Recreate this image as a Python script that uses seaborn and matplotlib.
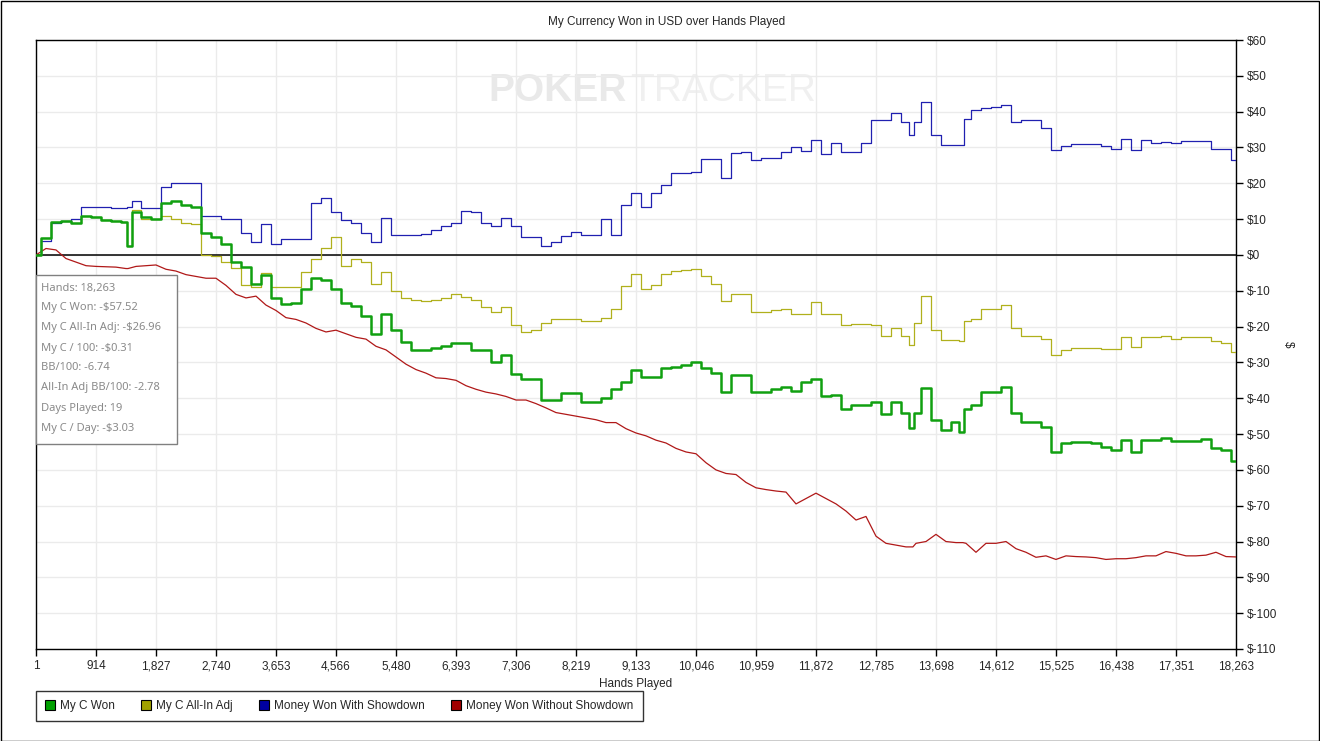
import numpy as np
import pandas as pd
import matplotlib
matplotlib.use("Agg")
import matplotlib.pyplot as plt
from matplotlib.lines import Line2D
from matplotlib.patches import Rectangle
import seaborn as sns

# hands sampled roughly every 152 hands (plus a few spike points)
hands = [1, 153, 305, 457, 610, 762, 914, 1066, 1218, 1371, 1401, 1523, 1675, 1827, 1979,
         2131, 2284, 2436, 2588, 2740, 2892, 3044, 3197, 3349, 3501, 3653, 3805, 3958,
         4110, 4262, 4414, 4566, 4718, 4871, 5023, 5175, 5327, 5480, 5632, 5784, 5936,
         6088, 6240, 6393, 6545, 6697, 6849, 7001, 7153, 7306, 7458, 7610, 7762, 7914,
         8067, 8219, 8371, 8523, 8675, 8827, 8980, 9132, 9284, 9436, 9589, 9741, 9893,
         10045, 10197, 10349, 10502, 10654, 10806, 10958, 11110, 11262, 11415, 11567,
         11719, 11871, 12023, 12176, 12328, 12480, 12632, 12784, 12936, 13089, 13241,
         13346, 13393, 13545, 13697, 13849, 14002, 14107, 14154, 14306, 14458, 14610,
         14763, 14915, 15067, 15219, 15371, 15523, 15676, 15828, 15980, 16132, 16284,
         16437, 16589, 16741, 16893, 17045, 17197, 17350, 17502, 17654, 17806, 17958,
         18111, 18263]

my_c_won = [0, 4.8, 9.3, 9.5, 9, 11, 10.5, 9.8, 9.5, 9.3, 2.6, 12, 10.5, 10, 14.5,
            15, 14, 13.5, 6, 5, 3, -2, -3.5, -8, -5.5, -12, -13.7, -13.5,
            -9.5, -6.5, -7, -9.5, -13.5, -14.3, -17, -22, -16.5, -21, -24.2, -26.5, -26.5,
            -26, -25.5, -24.5, -24.5, -26.5, -26.5, -29.8, -28, -33.3, -34.7, -34.6, -40.5, -40.5,
            -38.6, -38.6, -41, -41, -40, -37.5, -35.5, -32.1, -34, -34, -31.6, -31.3, -30.7,
            -30, -31.5, -33, -38.3, -33.5, -33.5, -38.3, -38.3, -37.5, -36.8, -38,
            -35.5, -34.5, -39.5, -39, -43, -42, -42, -41, -44.5, -41, -44,
            -48.4, -44, -37.2, -46, -48.8, -46.5, -49.5, -43, -42, -38.3, -38.3,
            -37, -44, -46.5, -46.5, -48, -55, -52.5, -52.3, -52.3, -52.5, -53.5,
            -54.5, -51.7, -55, -51.7, -51.7, -51, -52, -52, -51.8, -51.5,
            -54, -54.5, -57.5]

all_in_adj = [0, 4.8, 9.3, 9.5, 9, 11, 10.5, 9.8, 9.5, 9.3, 2.6, 12.5, 10, 10, 11,
              10, 9, 8.5, 0, -0.3, -2, -3.7, -8.5, -9, -5, -9, -9, -9,
              -4.7, -1, 2, 5, -3, -1.2, -2, -8, -4.8, -10, -12, -12.6, -12.8,
              -12.6, -12, -11, -11.7, -12.5, -14.5, -16, -14.5, -19.5, -21.5, -21, -19, -17.8,
              -17.8, -18, -18.5, -18.5, -17.5, -15, -8.7, -5.2, -9.5, -8.5, -5.3, -4.5, -4.3,
              -4, -6, -8, -12.8, -11, -11, -15.8, -15.8, -15.5, -15, -16.5,
              -16.5, -13, -16.5, -16.5, -19.5, -19.3, -19.3, -19.5, -22.5, -20.5, -22.7,
              -25, -19, -11.5, -21, -23.7, -23.7, -24, -18.5, -18, -15, -15,
              -14, -20.3, -22.7, -22.7, -23.5, -28, -26.5, -26, -26, -26, -26.3,
              -26.3, -23, -25.6, -23, -23, -22.5, -23.4, -23, -22.9, -22.9,
              -24, -24.5, -27]

with_showdown = [0, 4, 9, 9.5, 10, 13.5, 13.5, 13.3, 13, 13, 13.5, 15, 13, 13, 19,
                 20, 20, 20, 11, 11, 10, 10, 6, 3.7, 8.5, 3, 4.5, 4.4,
                 4.4, 14.5, 16, 12, 9.7, 9, 6, 3.5, 10.2, 5.5, 5.5, 5.5, 5.8,
                 7, 8, 9, 12.4, 12, 9, 8, 10.2, 8, 5, 5, 2.5, 3.5,
                 5.2, 6.3, 5.5, 5.5, 10, 5.5, 14, 17.4, 13.5, 17.4, 19.5, 22.8, 23,
                 23.2, 26.8, 26.8, 21.5, 28.4, 28.6, 26.5, 27.2, 27.2, 28.8, 30,
                 29, 32, 28.3, 31.2, 28.8, 28.8, 31.2, 37.7, 37.7, 39.5, 37.2,
                 33.5, 37, 42.8, 33.5, 30.7, 30.7, 30.7, 38, 40.5, 41, 41.4,
                 41.8, 37.2, 37.7, 37.7, 35.5, 29.3, 30.5, 31, 31, 31, 30.5,
                 29.5, 32.3, 29.3, 32, 31.2, 31.5, 31.2, 31.8, 31.8, 31.8,
                 29.6, 29.6, 26.5]

without_showdown = [0, 1.8, 1.4, -1, -2, -3, -3.2, -3.3, -3.4, -3.8, -3.8, -3.2, -3, -2.8, -4,
                    -4.5, -5.5, -6, -6.5, -6.5, -8.5, -11, -12, -11.5, -14, -15.5, -17.5, -18,
                    -19, -20.5, -21.5, -21, -22, -23, -23.5, -25.5, -26.5, -28.5, -30.5, -32, -33,
                    -34.3, -34.5, -35, -36.5, -37.5, -38.3, -38.8, -39.5, -40.5, -40.5, -41.5, -42.7, -44,
                    -44.5, -45, -45.5, -46, -46.8, -46.8, -48.5, -49.7, -50.5, -51.7, -52.5, -54, -55,
                    -55.5, -58, -60, -61, -61.3, -63.5, -65, -65.5, -65.9, -66.2, -69.5,
                    -68, -66.5, -68, -69.5, -71.5, -74, -73, -78.5, -80.5, -81, -81.5,
                    -81.5, -80.5, -80, -78, -80, -80.3, -80.3, -80.5, -83, -80.5, -80.5,
                    -80, -82, -83, -84.4, -84, -85, -84, -84.2, -84.3, -84.5, -85,
                    -84.8, -84.8, -84.5, -84, -84, -82.8, -83.3, -84, -84, -83.8,
                    -83, -84.2, -84.3]

series_names = ["My C Won", "My C All-In Adj", "Money Won With Showdown", "Money Won Without Showdown"]
line_colors = ["#10a010", "#b0b01c", "#2020b0", "#b01818"]
legend_colors = ["#00a000", "#a0a000", "#0000a0", "#a00000"]
draw_styles = ["steps-mid", "steps-mid", "steps-mid", "default"]

x_ticks = [1, 914, 1827, 2740, 3653, 4566, 5480, 6393, 7306, 8219, 9133, 10046,
           10959, 11872, 12785, 13698, 14612, 15525, 16438, 17351, 18263]
y_ticks = list(range(-110, 61, 10))

info_lines = ["Hands: 18,263", "My C Won: -$57.52", "My C All-In Adj: -$26.96",
              "My C / 100: -$0.31", "BB/100: -6.74", "All-In Adj BB/100: -2.78",
              "Days Played: 19", "My C / Day: -$3.03"]

df = pd.DataFrame({"hands": hands,
                   series_names[0]: my_c_won,
                   series_names[1]: all_in_adj,
                   series_names[2]: with_showdown,
                   series_names[3]: without_showdown})
long_df = df.melt(id_vars="hands", var_name="series", value_name="usd")

sns.set_style("white")
plt.rcParams["font.family"] = ["Liberation Sans", "DejaVu Sans"]

W, H = 1320, 741
fig = plt.figure(figsize=(W / 100, H / 100), dpi=100)
ax = fig.add_axes([36 / W, 1 - 649 / H, 1200 / W, 609 / H])

ax.axhline(0, color="black", lw=1.1, zorder=1.5)

# draw order: red, blue, olive, green on top
for i in [3, 2, 1, 0]:
    name = series_names[i]
    sns.lineplot(data=long_df[long_df["series"] == name], x="hands", y="usd",
                 color=line_colors[i], lw=1.8 if i == 0 else 0.9,
                 drawstyle=draw_styles[i], ax=ax, legend=False, zorder=3 + (3 - i))

ax.set_xlim(1, 18263)
ax.set_ylim(-110, 60)
ax.set_xticks(x_ticks)
ax.set_xticklabels([f"{v:,}" for v in x_ticks], fontsize=8.5)
ax.set_yticks(y_ticks)
ax.set_yticklabels([f"${v}" for v in y_ticks], fontsize=8.5)
ax.yaxis.tick_right()
ax.tick_params(axis="both", direction="out", length=5, width=1, color="black",
               pad=3, bottom=True, right=True, left=False)
ax.grid(True, color="#ebebeb", lw=1)
for s in ax.spines.values():
    s.set_color("black")
    s.set_linewidth(1)
ax.set_xlabel("Hands Played", fontsize=8.5, labelpad=4)
ax.set_ylabel("$", fontsize=8.5, rotation=270, va="center")
ax.yaxis.set_label_coords((1288 - 36) / 1200, 0.5)

# watermark
ax.text((488 - 36) / 1200, 0.916, "POKER", transform=ax.transAxes, fontsize=28,
        fontweight="bold", color="#e9e9e9", ha="left", va="center", zorder=0.5)
ax.text((630 - 36) / 1200, 0.916, "TRACKER", transform=ax.transAxes, fontsize=28,
        color="#f0f0f0", ha="left", va="center", zorder=0.5)

fig.text(667 / W, 1 - 22 / H, "My Currency Won in USD over Hands Played",
         ha="center", va="center", fontsize=8.5)

# info box
fig.add_artist(Rectangle((36 / W, 1 - 444 / H), 141 / W, 169 / H, transform=fig.transFigure,
                         facecolor="white", edgecolor="#808080", lw=1, zorder=10))
for j, line in enumerate(info_lines):
    fig.text(41 / W, 1 - (288 + 20 * j) / H, line, ha="left", va="center",
             fontsize=8, color="#8a8a8a", family="Noto Sans", zorder=11)

# legend
handles = [Line2D([], [], ls="none", marker="s", markersize=7, markerfacecolor=c,
                  markeredgecolor="black", markeredgewidth=0.8) for c in legend_colors]
leg = fig.legend(handles, series_names, loc="upper left",
                 bbox_to_anchor=(36 / W, 1 - 691 / H), ncol=4, fontsize=8.5,
                 frameon=True, fancybox=False, edgecolor="black", handlelength=0.8,
                 handletextpad=0.5, columnspacing=2.2, borderpad=0.75, borderaxespad=0)
leg.get_frame().set_linewidth(1)

# outer frame
fig.add_artist(Rectangle((0.5 / W, 0.5 / H), 1 - 1.5 / W, 1 - 1.5 / H, transform=fig.transFigure,
                         fill=False, edgecolor="black", lw=1))

fig.savefig("out.png", dpi=100)
